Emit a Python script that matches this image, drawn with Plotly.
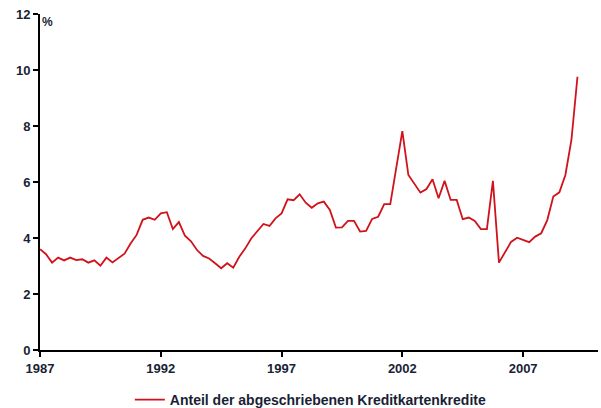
import plotly.graph_objects as go

start_year = 1987
values = [3.6, 3.42, 3.12, 3.30, 3.2, 3.3, 3.21, 3.24, 3.12, 3.2,
          3.01, 3.3, 3.13, 3.27, 3.44, 3.80, 4.11, 4.65, 4.73, 4.65,
          4.88, 4.92, 4.32, 4.57, 4.08, 3.88, 3.57, 3.36, 3.27, 3.1,
          2.92, 3.1, 2.94, 3.33, 3.63, 3.99, 4.23, 4.5, 4.43, 4.70,
          4.88, 5.38, 5.35, 5.56, 5.26, 5.08, 5.24, 5.3, 5.0, 4.37,
          4.38, 4.61, 4.61, 4.23, 4.25, 4.68, 4.76, 5.21, 5.21, 6.49,
          7.82, 6.25, 5.92, 5.62, 5.75, 6.1, 5.42, 6.04, 5.36, 5.36,
          4.67, 4.73, 4.61, 4.32, 4.32, 6.04, 3.12, 3.51, 3.86, 4.01,
          3.93, 3.85, 4.05, 4.17, 4.64, 5.48, 5.63, 6.25, 7.5, 9.76]
x_years = [start_year + i / 4 for i in range(len(values))]
x_ticks = [1987, 1992, 1997, 2002, 2007]
y_ticks = [0, 2, 4, 6, 8, 10, 12]
series_name = "Anteil der abgeschriebenen Kreditkartenkredite"

label_color = "#1a1f36"
fig = go.Figure()
fig.add_trace(go.Scatter(
    x=x_years, y=values, mode="lines", name=series_name,
    line=dict(color="#d0121b", width=1.8),
))

fig.update_layout(
    width=601, height=408,
    margin=dict(l=40, r=3, t=14, b=58, autoexpand=False),
    paper_bgcolor="white", plot_bgcolor="white",
    font=dict(family="Liberation Sans, Arial", size=12, color=label_color),
    showlegend=True,
    legend=dict(orientation="h", x=0.161, xanchor="left",
                yref="container", y=0.0588, yanchor="top",
                font=dict(size=14, color=label_color, weight="bold"), itemwidth=30,
                bgcolor="rgba(0,0,0,0)"),
    xaxis=dict(range=[1987, 2010.1], tickvals=x_ticks, ticktext=[str(t) for t in x_ticks],
               showgrid=False, zeroline=False, showline=True, linecolor="black", linewidth=2,
               ticks="outside", ticklen=5, tickwidth=2, tickcolor="black", automargin=False,
               tickfont=dict(size=13, family="Liberation Sans, Arial", color=label_color, weight="bold")),
    yaxis=dict(range=[0, 12], tickvals=y_ticks, showgrid=False, zeroline=False,
               showline=True, linecolor="black", linewidth=2,
               ticks="outside", ticklen=5, tickwidth=2, tickcolor="black", automargin=False,
               tickfont=dict(size=13, family="Liberation Sans, Arial", color=label_color, weight="bold")),
    annotations=[dict(text="<b>%</b>", xref="paper", yref="paper", x=0.0, y=1.0,
                      xanchor="left", yanchor="top", xshift=0, yshift=1, showarrow=False,
                      font=dict(size=12, color=label_color))],
)

fig.write_html("out.html", config={"displayModeBar": False},
               post_script="document.body.style.margin='0';")
